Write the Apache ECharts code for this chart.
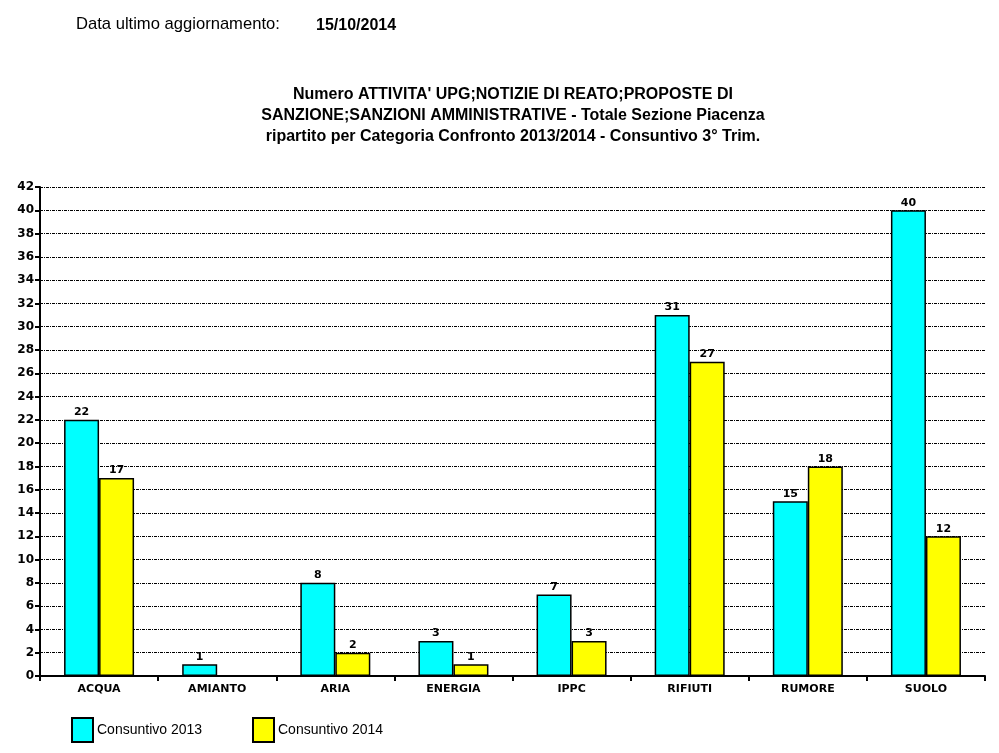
<!DOCTYPE html>
<html><head><meta charset="utf-8">
<script src="https://cdn.jsdelivr.net/npm/echarts@6/dist/echarts.min.js"></script>
<style>html,body{margin:0;padding:0;background:#fff}#c{width:999px;height:753px}</style>
</head><body><div id="c"></div>
<script>
const categories = ['ACQUA','AMIANTO','ARIA','ENERGIA','IPPC','RIFIUTI','RUMORE','SUOLO'];
const values2013 = [22,1,8,3,7,31,15,40];
const values2014 = [17,null,2,1,3,27,18,12];
const seriesNames = ['Consuntivo 2013','Consuntivo 2014'];
const yMin = 0, yMax = 42, yStep = 2;

const chart = echarts.init(document.getElementById('c'));
const lab = {show:true, position:'top', color:'#000', fontFamily:'DejaVu Sans', fontWeight:'bold', fontSize:11, distance:2};
chart.setOption({
  backgroundColor:'#fff',
  animation:false,
  title:[
    {text:'Data ultimo aggiornamento:', left:76, top:16, padding:0, textStyle:{fontFamily:'Liberation Sans', fontSize:16.6, fontWeight:'normal', color:'#000'}},
    {text:'15/10/2014', left:316, top:18, padding:0, textStyle:{fontFamily:'Liberation Sans', fontSize:16, fontWeight:'bold', color:'#000'}},
    {text:'{n|Numero }{b|ATTIVITA\' UPG;NOTIZIE DI REATO;PROPOSTE DI}\n{b|SANZIONE;SANZIONI AMMINISTRATIVE}{n| - Totale Sezione Piacenza}\n{n|ripartito per Categoria Confronto 2013/2014 - Consuntivo 3° Trim.}',
     left:513, top:84, padding:0, textAlign:'center',
     textStyle:{rich:{
       n:{fontFamily:'Liberation Sans', fontSize:16, fontWeight:'bold', color:'#000', lineHeight:21},
       b:{fontFamily:'Liberation Sans', fontSize:16, fontWeight:'bold', color:'#000', lineHeight:21}
     }}}
  ],
  legend:[
    {data:[seriesNames[0]], left:71, top:717, padding:0, itemWidth:21, itemHeight:24, itemGap:5, icon:'rect',
     textStyle:{fontFamily:'Liberation Sans', fontSize:14, color:'#000', padding:[0,0,0,-1]}},
    {data:[seriesNames[1]], left:252, top:717, padding:0, itemWidth:21, itemHeight:24, itemGap:5, icon:'rect',
     textStyle:{fontFamily:'Liberation Sans', fontSize:14, color:'#000', padding:[0,0,0,-1]}}
  ],
  grid:{left:40, right:14, top:187, bottom:77, containLabel:false},
  xAxis:{type:'category', data:categories,
    axisLine:{lineStyle:{color:'#000', width:2}},
    axisTick:{show:true, length:5, lineStyle:{color:'#000', width:2}},
    axisLabel:{color:'#000', fontFamily:'DejaVu Sans', fontWeight:'bold', fontSize:11, margin:8}},
  yAxis:{type:'value', min:yMin, max:yMax, interval:yStep,
    axisLine:{show:true, lineStyle:{color:'#000', width:2}},
    axisTick:{show:true, length:5, lineStyle:{color:'#000', width:2}},
    axisLabel:{color:'#000', fontFamily:'DejaVu Sans', fontWeight:'bold', fontSize:12, margin:6},
    splitLine:{show:true, lineStyle:{color:'#000', width:1, type:[3,1,1,1]}}},
  series:[
    {name:seriesNames[0], type:'bar', data:values2013, barWidth:35, barGap:'0%',
     itemStyle:{color:'#00ffff', borderColor:'#000', borderWidth:1.5}, label:lab},
    {name:seriesNames[1], type:'bar', data:values2014, barWidth:35, barGap:'0%',
     itemStyle:{color:'#ffff00', borderColor:'#000', borderWidth:1.5}, label:lab}
  ]
});
</script></body></html>
